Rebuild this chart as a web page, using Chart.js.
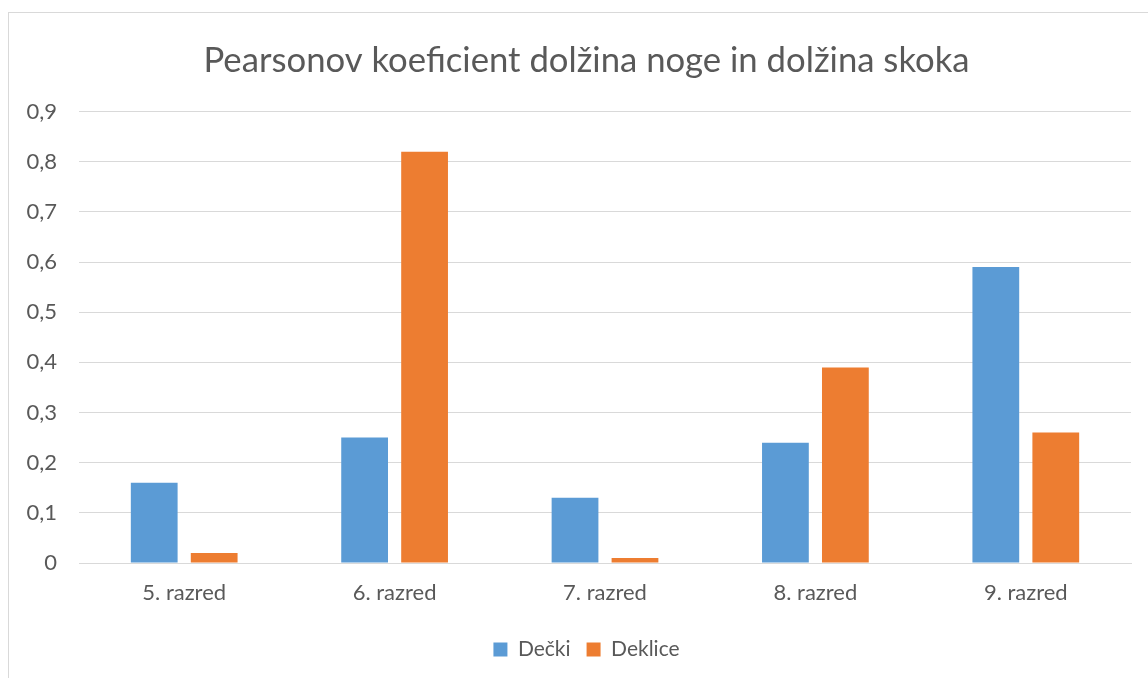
<!DOCTYPE html>
<html lang="sl">
<head>
    <meta charset="UTF-8">
    <title>Pearsonov koeficient</title>
    <script src="https://cdn.jsdelivr.net/npm/chart.js"></script>
    <style>
        body, html {
            margin: 0;
            padding: 0;
            width: 1148px;
            height: 678px;
            overflow: hidden;
            background: #fff;
        }
        #frame {
            position: absolute;
            left: 8px;
            top: 12px;
            width: 1160px;
            height: 700px;
            border: 1px solid #d9d9d9;
        }
        #wrap {
            position: absolute;
            left: 0;
            top: 0;
            width: 1148px;
            height: 678px;
        }
    </style>
</head>
<body>
    <div id="frame"></div>
    <div id="wrap"><canvas id="pearsonChart"></canvas></div>

    <script>
        const categories = ['5. razred', '6. razred', '7. razred', '8. razred', '9. razred'];
        const decki = [0.16, 0.25, 0.13, 0.24, 0.59];
        const deklice = [0.02, 0.82, 0.01, 0.39, 0.26];
        const yTickLabels = ['0', '0,1', '0,2', '0,3', '0,4', '0,5', '0,6', '0,7', '0,8', '0,9'];

        const font = "Lato, 'Open Sans', sans-serif";
        const textColor = '#595959';

        // title and legend are centred on the whole frame in the original, not on the plot
        const centreOnFrame = {
            id: 'centreOnFrame',
            afterLayout(chart) {
                chart.titleBlock.left += 42;
                chart.legend.left += 42;
            }
        };

        const ctx = document.getElementById('pearsonChart').getContext('2d');
        new Chart(ctx, {
            type: 'bar',
            data: {
                labels: categories,
                datasets: [{
                    label: 'Dečki',
                    data: decki,
                    backgroundColor: '#5B9BD5'
                }, {
                    label: 'Deklice',
                    data: deklice,
                    backgroundColor: '#ED7D31'
                }]
            },
            plugins: [centreOnFrame],
            options: {
                responsive: true,
                maintainAspectRatio: false,
                animation: false,
                layout: {
                    padding: { left: 0, right: 17, top: 0, bottom: 8 }
                },
                datasets: {
                    bar: {
                        categoryPercentage: 0.57,
                        barPercentage: 0.78
                    }
                },
                scales: {
                    x: {
                        grid: { display: false, drawTicks: false },
                        border: { display: true, color: '#d9d9d9', width: 1 },
                        ticks: {
                            color: textColor,
                            font: { family: font, size: 22 },
                            padding: 17
                        },
                        afterFit: scale => { scale.height = 60; }
                    },
                    y: {
                        min: 0,
                        max: 0.9,
                        grid: { color: '#d9d9d9', drawTicks: false },
                        border: { display: false },
                        ticks: {
                            stepSize: 0.1,
                            color: textColor,
                            font: { family: font, size: 22 },
                            padding: 22,
                            callback: (value, index) => yTickLabels[index]
                        },
                        afterFit: scale => { scale.width = 79; }
                    }
                },
                plugins: {
                    title: {
                        display: true,
                        text: 'Pearsonov koeficient dolžina noge in dolžina skoka',
                        color: textColor,
                        font: { family: font, size: 34.7, weight: 'normal' },
                        padding: { top: 40, bottom: 30 }
                    },
                    legend: {
                        position: 'bottom',
                        labels: {
                            color: textColor,
                            font: { family: font, size: 21 },
                            boxWidth: 14,
                            boxHeight: 14,
                            padding: 16
                        }
                    },
                    tooltip: { enabled: false }
                }
            }
        });
    </script>
</body>
</html>
